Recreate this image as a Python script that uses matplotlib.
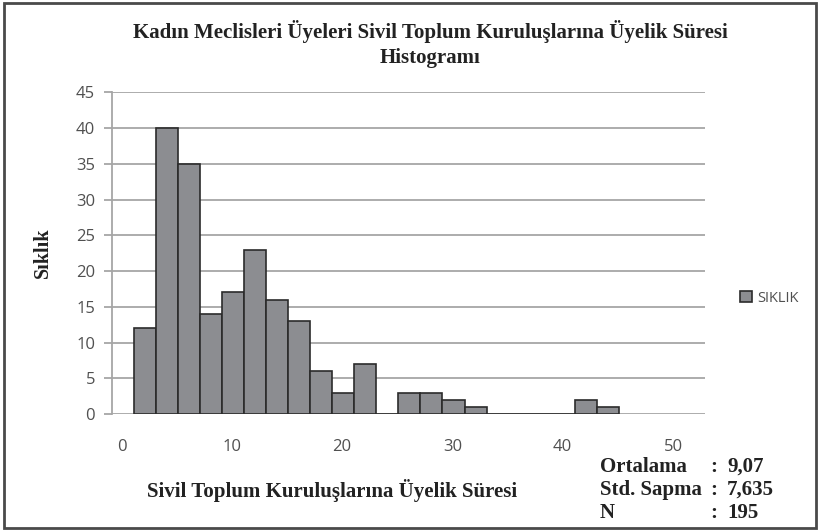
import numpy as np
import matplotlib
matplotlib.use("Agg")
import matplotlib.pyplot as plt
import matplotlib.patches as patches

# histogram data: bins of width 2, first bin starts at ~1.1
bin_start = 1.1
bin_width = 2.0
frequencies = [12, 40, 35, 14, 17, 23, 16, 13, 6, 3, 7, 0,
               3, 3, 2, 1, 0, 0, 0, 0, 2, 1]
x_ticks = [0, 10, 20, 30, 40, 50]
y_ticks = [0, 5, 10, 15, 20, 25, 30, 35, 40, 45]

title = "Kadın Meclisleri Üyeleri Sivil Toplum Kuruluşlarına Üyelik Süresi\nHistogramı"
x_label = "Sivil Toplum Kuruluşlarına Üyelik Süresi"
y_label = "Sıklık"
legend_label = "SIKLIK"
stat_names = ["Ortalama", "Std. Sapma", "N"]
stat_values = ["9,07", "7,635", "195"]

serif = "Liberation Serif"
sans = "Open Sans"
grid_col = "#a6a6a6"
text_col = "#505050"
dark = "#222222"

fig = plt.figure(figsize=(8.2, 5.3), dpi=100)
ax = fig.add_axes([111.7 / 820, 1 - 414 / 530, (705 - 111.7) / 820, (414 - 92.3) / 530])

lefts = bin_start + bin_width * np.arange(len(frequencies))
bars = ax.bar(lefts, frequencies, width=bin_width, align="edge",
              color="#8c8d91", edgecolor="#2b2b2b", linewidth=1.2, zorder=3,
              label=legend_label)

ax.set_xlim(-0.89, 52.9)
ax.set_ylim(0, 45)
ax.set_yticks(y_ticks)
ax.set_xticks(x_ticks)

ax.yaxis.grid(True, color=grid_col, linewidth=1.3, zorder=0)
ax.set_axisbelow(True)
for s in ["top", "right", "bottom"]:
    ax.spines[s].set_visible(False)
ax.spines["left"].set_color(grid_col)
ax.spines["left"].set_linewidth(1.3)

ax.tick_params(axis="y", length=6, width=1.3, color=grid_col, pad=6,
               labelsize=12, labelcolor=text_col)
ax.tick_params(axis="x", length=0, pad=18, labelsize=12, labelcolor=text_col)
for lab in ax.get_xticklabels() + ax.get_yticklabels():
    lab.set_fontfamily(sans)

fig.text(430 / 820, 1 - 44 / 530, title, ha="center", va="center",
         fontfamily=serif, fontweight="bold", fontsize=15, color=dark,
         linespacing=1.3)
fig.text(43 / 820, 1 - 253 / 530, y_label, ha="center", va="center",
         rotation=90, fontfamily=serif, fontweight="bold", fontsize=14.5,
         color=dark)
fig.text(332 / 820, 1 - 490 / 530, x_label, ha="center", va="center",
         fontfamily=serif, fontweight="bold", fontsize=15, color=dark)

stat_rows = [467, 490, 513]
for name, val, yp in zip(stat_names, stat_values, stat_rows):
    y = 1 - yp / 530
    fig.text(600 / 820, y, name, ha="left", va="center", fontfamily=serif,
             fontweight="bold", fontsize=15, color=dark)
    fig.text(714 / 820, y, ":", ha="center", va="center", fontfamily=serif,
             fontweight="bold", fontsize=15, color=dark)
    fig.text(727 / 820, y, val, ha="left", va="center", fontfamily=serif,
             fontweight="bold", fontsize=15, color=dark)

leg = fig.legend(handles=[bars], labels=[legend_label], loc="center left",
                 bbox_to_anchor=(727 / 820, 1 - 298 / 530), frameon=False,
                 handlelength=0.8, handleheight=0.8, handletextpad=0.4,
                 prop={"family": sans, "size": 10.5})
for t in leg.get_texts():
    t.set_color(text_col)

fig.patches.append(patches.Rectangle((4 / 820, 2 / 530), 812 / 820, 525 / 530,
                                     transform=fig.transFigure, fill=False,
                                     edgecolor="#4a4a4a", linewidth=2))

fig.savefig("out.png", dpi=100)
